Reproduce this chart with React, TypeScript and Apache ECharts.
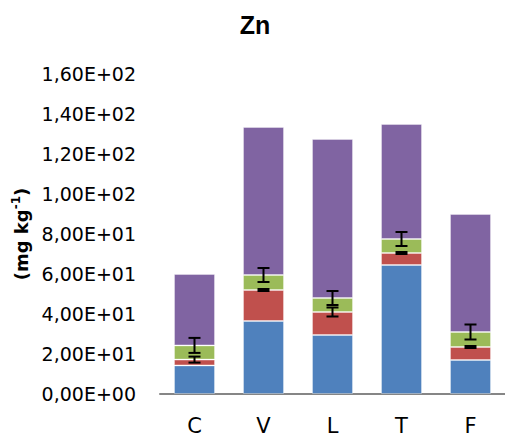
import React, { useEffect, useRef } from "react";
import * as echarts from "echarts";

const categories = ["C", "V", "L", "T", "F"];
const blueValues = [14.3, 36.5, 29.5, 64.5, 17];
const redValues = [2.9, 15.5, 11.5, 6, 6.5];
const greenValues = [7.1, 7.5, 7, 7, 7.5];
const purpleValues = [35.7, 74, 79.5, 57.5, 59];
const redErrors = [1.5, 0.5, 2.25, 0.5, 0.5];
const greenErrors = [3.75, 3.5, 3.5, 3.5, 3.75];
const yTickLabels = [
  "0,00E+00",
  "2,00E+01",
  "4,00E+01",
  "6,00E+01",
  "8,00E+01",
  "1,00E+02",
  "1,20E+02",
  "1,40E+02",
  "1,60E+02",
];

const FONT = "DejaVu Sans";
const TITLE_FONT = "Liberation Sans";

export default function App() {
  const ref = useRef<HTMLDivElement>(null);
  useEffect(() => {
    if (!ref.current) return;
    const chart = echarts.init(ref.current, undefined, { renderer: "svg" });

    const errData: number[][] = [];
    categories.forEach((_, i) => {
      const redTop = blueValues[i] + redValues[i];
      const greenTop = redTop + greenValues[i];
      errData.push([i, redTop, redErrors[i]]);
      errData.push([i, greenTop, greenErrors[i]]);
    });

    const barCommon = {
      type: "bar",
      stack: "total",
      barWidth: 41,
      itemStyle: { borderColor: "rgba(255,255,255,0.35)", borderWidth: 1 },
    };

    chart.setOption({
      animation: false,
      backgroundColor: "#ffffff",
      graphic: [
        {
          type: "text",
          style: {
            text: "Zn",
            x: 255,
            y: 25,
            align: "center",
            verticalAlign: "middle",
            font: `bold 25px "${TITLE_FONT}"`,
            fill: "#000000",
          },
        },
      ],
      grid: { left: 160, top: 74, width: 349, height: 320 },
      xAxis: {
        type: "category",
        data: categories,
        axisLine: { show: true, lineStyle: { color: "#868686", width: 2 } },
        axisTick: { show: false },
        axisLabel: {
          margin: 21,
          fontSize: 21,
          fontFamily: FONT,
          color: "#000000",
        },
        splitLine: { show: false },
      },
      yAxis: {
        type: "value",
        min: 0,
        max: 160,
        interval: 20,
        axisLine: { show: false },
        axisTick: { show: false },
        splitLine: { show: false },
        axisLabel: {
          margin: 24,
          fontSize: 19,
          fontFamily: FONT,
          color: "#000000",
          formatter: (v: number) => yTickLabels[Math.round(v / 20)] ?? "",
        },
        name: "{a|(mg kg}{b|-1}{a|)}",
        nameLocation: "middle",
        nameGap: 128,
        nameRotate: 90,
        nameTextStyle: {
          rich: {
            a: {
              fontSize: 18,
              fontWeight: "bold",
              fontFamily: FONT,
              color: "#000000",
              lineHeight: 22,
            },
            b: {
              fontSize: 12,
              fontWeight: "bold",
              fontFamily: FONT,
              color: "#000000",
              verticalAlign: "top",
              lineHeight: 22,
            },
          },
        },
      },
      series: [
        { ...barCommon, name: "blue", data: blueValues, itemStyle: { ...barCommon.itemStyle, color: "#4F81BD" } },
        { ...barCommon, name: "red", data: redValues, itemStyle: { ...barCommon.itemStyle, color: "#C0504D" } },
        { ...barCommon, name: "green", data: greenValues, itemStyle: { ...barCommon.itemStyle, color: "#9BBB59" } },
        { ...barCommon, name: "purple", data: purpleValues, itemStyle: { ...barCommon.itemStyle, color: "#8064A2" } },
        {
          type: "custom",
          name: "errors",
          data: errData,
          encode: { x: 0, y: 1 },
          z: 10,
          renderItem: (params: any, api: any) => {
            const idx = api.value(0);
            const c = api.value(1);
            const e = api.value(2);
            const top = api.coord([idx, c + e]);
            const bot = api.coord([idx, c - e]);
            const hw = 6;
            const style = { stroke: "#000000", lineWidth: 2 };
            return {
              type: "group",
              children: [
                { type: "line", shape: { x1: top[0], y1: top[1], x2: bot[0], y2: bot[1] }, style },
                { type: "line", shape: { x1: top[0] - hw, y1: top[1], x2: top[0] + hw, y2: top[1] }, style },
                { type: "line", shape: { x1: bot[0] - hw, y1: bot[1], x2: bot[0] + hw, y2: bot[1] }, style },
              ],
            };
          },
        },
      ],
    });
    return () => chart.dispose();
  }, []);
  return (
    <div
      ref={ref}
      style={{ position: "fixed", left: 0, top: 0, width: 505, height: 441 }}
    />
  );
}
